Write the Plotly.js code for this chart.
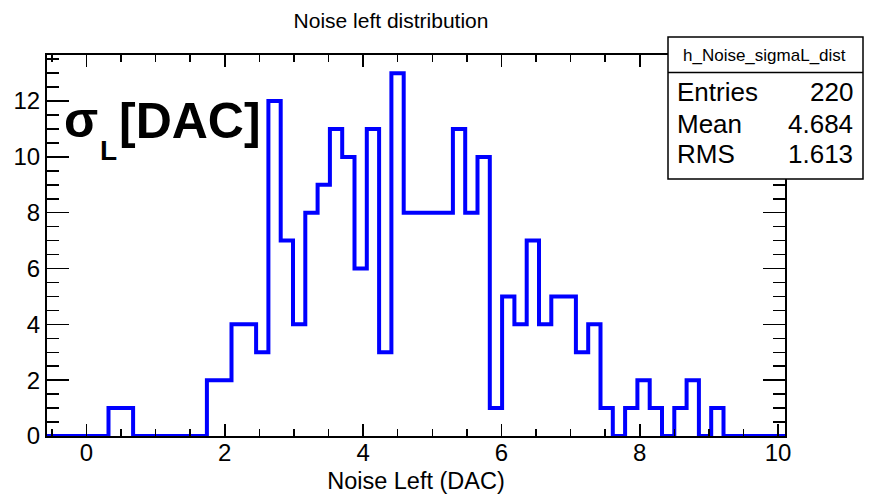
<!DOCTYPE html>
<html>
<head>
<meta charset="utf-8">
<script src="https://cdn.plot.ly/plotly-3.0.1.min.js"></script>
<style>html,body{margin:0;padding:0;background:#fff;}#chart{width:876px;height:496px;}</style>
</head>
<body>
<div id="chart"></div>
<script>
// Histogram definition (60 bins)
const binStart = -0.57;
const binEnd = 10.1;
const counts = [
  0,0,0,0,0,1,1,0,0,0,
  0,0,0,2,2,4,4,3,12,7,
  4,8,9,11,10,6,11,3,13,8,
  8,8,8,11,8,10,1,5,4,7,
  4,5,5,3,4,1,0,1,2,1,
  0,1,2,0,1,0,0,0,0,0
];
const xTickVals = [0, 2, 4, 6, 8, 10];
const yTickVals = [0, 2, 4, 6, 8, 10, 12];
const statsLabels = ["Entries", "Mean", "RMS"];
const statsValues = ["220", "4.684", "1.613"];
const histName = "h_Noise_sigmaL_dist";

const nb = counts.length;
const bw = (binEnd - binStart) / nb;
const xs = [], ys = [];
for (let i = 0; i < nb; i++) { xs.push(binStart + i * bw); ys.push(counts[i]); }
xs.push(binEnd); ys.push(counts[nb - 1]);

// pixel -> paper helpers (plot area: x 47..785, y 55..436)
const L = 47, R = 785, T = 55, B = 436;
const px = p => (p - L) / (R - L);
const py = p => (B - p) / (B - T);

const FONT = "Liberation Sans, Arial, Helvetica, sans-serif";

const annotations = [
  {text: "σ", x: px(63), y: py(119.5), xanchor: "left", yanchor: "middle", font: {family: FONT, size: 50, color: "#000", weight: "bold"}},
  {text: "L", x: px(99), y: py(150), xanchor: "left", yanchor: "middle", font: {family: FONT, size: 28, color: "#000", weight: "bold"}},
  {text: "[DAC]", x: px(118), y: py(121.5), xanchor: "left", yanchor: "middle", font: {family: FONT, size: 50, color: "#000", weight: "bold"}},
  {text: histName, x: px(764), y: py(55), xanchor: "center", yanchor: "middle", font: {family: FONT, size: 17, color: "#000"}}
];
const rowY = [92, 124, 154];
for (let i = 0; i < statsLabels.length; i++) {
  annotations.push({text: statsLabels[i], x: px(676), y: py(rowY[i]), xanchor: "left", yanchor: "middle", font: {family: FONT, size: 26, color: "#000"}});
  annotations.push({text: statsValues[i], x: px(854), y: py(rowY[i]), xanchor: "right", yanchor: "middle", font: {family: FONT, size: 26, color: "#000"}});
}
annotations.forEach(a => { a.xref = "paper"; a.yref = "paper"; a.showarrow = false; a.borderpad = 0; });

const shapes = [
  {type: "rect", xref: "paper", yref: "paper", x0: px(668), x1: px(863), y0: py(37), y1: py(179), line: {color: "#000", width: 1.5}, fillcolor: "#fff", layer: "above"},
  {type: "line", xref: "paper", yref: "paper", x0: px(668), x1: px(863), y0: py(72.5), y1: py(72.5), line: {color: "#000", width: 1.5}, layer: "above"}
];

const trace = {
  type: "scatter", mode: "lines", x: xs, y: ys,
  line: {shape: "hv", color: "#0000ff", width: 4},
  hoverinfo: "skip", showlegend: false
};

const layout = {
  width: 876, height: 496,
  margin: {l: L, r: 876 - R, t: T, b: 496 - B},
  paper_bgcolor: "#fff", plot_bgcolor: "#fff",
  font: {family: FONT, color: "#000"},
  title: {text: "Noise left distribution", x: 391 / 876, xanchor: "center", y: 1 - 21 / 496, yanchor: "middle", font: {family: FONT, size: 21, color: "#000"}},
  xaxis: {
    range: [binStart, binEnd], tickvals: xTickVals, ticktext: xTickVals.map(String),
    ticks: "inside", ticklen: 12, tickwidth: 1.5, tickcolor: "#000",
    minor: {dtick: 0.5, tick0: 0, ticks: "inside", ticklen: 7, tickwidth: 1.5, tickcolor: "#000"},
    showline: true, linecolor: "#000", linewidth: 2, mirror: "ticks",
    showgrid: false, zeroline: false, ticklabelstandoff: -6,
    tickfont: {family: FONT, size: 24, color: "#000"},
    title: {text: "Noise Left (DAC)", font: {family: FONT, size: 23.5, color: "#000"}, standoff: 8}
  },
  yaxis: {
    range: [0, 13.65], tickvals: yTickVals, ticktext: yTickVals.map(String),
    ticks: "inside", ticklen: 22, tickwidth: 1.5, tickcolor: "#000",
    minor: {dtick: 0.5, tick0: 0, ticks: "inside", ticklen: 12, tickwidth: 1.5, tickcolor: "#000"},
    showline: true, linecolor: "#000", linewidth: 2, mirror: "ticks",
    showgrid: false, zeroline: false,
    tickfont: {family: FONT, size: 24, color: "#000"}
  },
  annotations: annotations,
  shapes: shapes
};

Plotly.newPlot("chart", [trace], layout, {displayModeBar: false, staticPlot: true});
</script>
</body>
</html>
